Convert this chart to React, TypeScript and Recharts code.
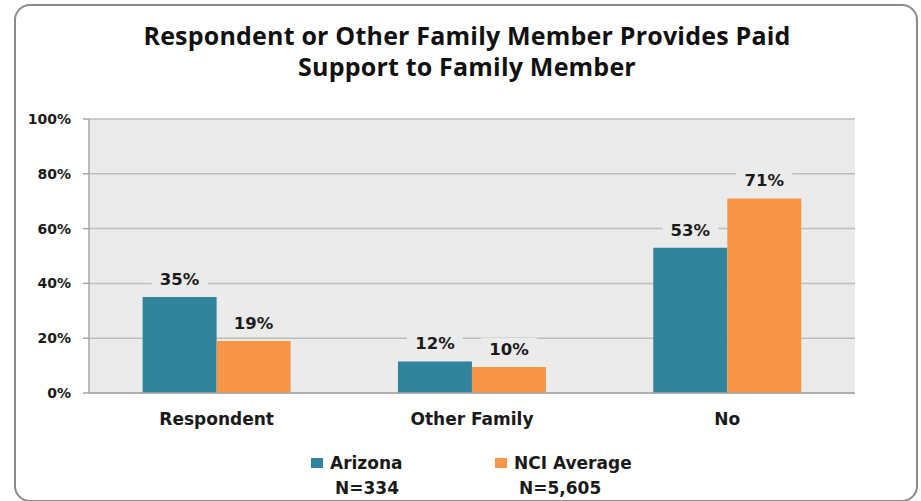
import { BarChart, Bar, XAxis, YAxis, CartesianGrid, LabelList, Legend } from 'recharts';

const categories = ['Respondent', 'Other Family', 'No'];
const arizona = [35, 11.5, 53];
const nciAverage = [19, 9.5, 71];
const seriesNames = ['Arizona', 'NCI Average'];
const sampleSizes = ['N=334', 'N=5,605'];
const yTicks = [0, 20, 40, 60, 80, 100];

const TEAL = '#31849b';
const ORANGE = '#f79646';
const PLOT_BG = '#ebebeb';
const LABEL_FONT = '"DejaVu Sans", Verdana, sans-serif';

const chartData = categories.map((name, i) => ({
  name,
  arizona: arizona[i],
  nci: nciAverage[i],
}));

// value label with a small box behind it that hides the gridline
const renderValueLabel = (props: any) => {
  const { x, y, width, value } = props;
  const cx = x + width / 2;
  const text = `${Math.round(value)}%`;
  return (
    <g>
      <rect x={cx - 28} y={y - 29} width={56} height={22} fill={PLOT_BG} />
      <text
        x={cx}
        y={y - 12}
        textAnchor="middle"
        fontFamily={LABEL_FONT}
        fontWeight="bold"
        fontSize={16.5}
        fill="#1a1a1a"
      >
        {text}
      </text>
    </g>
  );
};

const renderLegend = () => {
  const colors = [TEAL, ORANGE];
  return (
    <div style={{ display: 'flex', fontFamily: LABEL_FONT, fontWeight: 'bold', fontSize: 17, color: '#1a1a1a' }}>
      {seriesNames.map((name, i) => (
        <div key={name} style={{ width: 184, display: 'flex', flexDirection: 'column', alignItems: 'flex-start' }}>
          <div style={{ display: 'flex', alignItems: 'center', height: 22 }}>
            <span style={{ display: 'inline-block', width: 12, height: 10, background: colors[i], marginRight: 7 }} />
            <span>{name}</span>
          </div>
          <div style={{ marginLeft: 24, height: 28, lineHeight: '28px' }}>{sampleSizes[i]}</div>
        </div>
      ))}
    </div>
  );
};

export default function App() {
  return (
    <div style={{ position: 'fixed', left: 0, top: 0, width: 921, height: 501, background: '#fff', overflow: 'hidden' }}>
      <div
        style={{
          position: 'absolute',
          left: 14,
          top: 4,
          width: 900,
          height: 494,
          border: '2px solid #8a8a8a',
          borderRadius: 16,
        }}
      />
      <div
        style={{
          position: 'absolute',
          left: 15,
          top: 20,
          width: 904,
          textAlign: 'center',
          fontFamily: '"Open Sans", Lato, sans-serif',
          fontWeight: 'bold',
          fontSize: 25,
          letterSpacing: 0.2,
          lineHeight: '31px',
          color: '#111',
        }}
      >
        Respondent or Other Family Member Provides Paid
        <br />
        Support to Family Member
      </div>
      <div style={{ position: 'absolute', left: 0, top: 0 }}>
        <BarChart
          width={921}
          height={501}
          data={chartData}
          margin={{ top: 119, right: 66, left: 0, bottom: 18 }}
          barCategoryGap="21%"
          barGap={0}
        >
          <CartesianGrid vertical={false} fill={PLOT_BG} stroke="#bdbdbd" strokeWidth={1.5} />
          <XAxis
            dataKey="name"
            height={40}
            tickLine={false}
            axisLine={{ stroke: '#a6a6a6', strokeWidth: 1.5 }}
            tickMargin={14}
            tick={{ fontFamily: LABEL_FONT, fontWeight: 'bold', fontSize: 17, fill: '#1a1a1a' }}
          />
          <YAxis
            width={89}
            domain={[0, 100]}
            ticks={yTicks}
            interval={0}
            tickFormatter={(v: number) => `${v}%`}
            tickSize={6}
            tickMargin={12}
            axisLine={{ stroke: '#a6a6a6', strokeWidth: 1.5 }}
            tickLine={{ stroke: '#a6a6a6', strokeWidth: 1.5 }}
            tick={{ fontFamily: LABEL_FONT, fontWeight: 'bold', fontSize: 14, fill: '#1a1a1a' }}
          />
          <Legend
            content={renderLegend}
            wrapperStyle={{ position: 'absolute', left: 311, top: 452, width: 400 }}
          />
          <Bar dataKey="arizona" name={seriesNames[0]} fill={TEAL} isAnimationActive={false}>
            <LabelList dataKey="arizona" content={renderValueLabel} />
          </Bar>
          <Bar dataKey="nci" name={seriesNames[1]} fill={ORANGE} isAnimationActive={false}>
            <LabelList dataKey="nci" content={renderValueLabel} />
          </Bar>
        </BarChart>
      </div>
    </div>
  );
}
